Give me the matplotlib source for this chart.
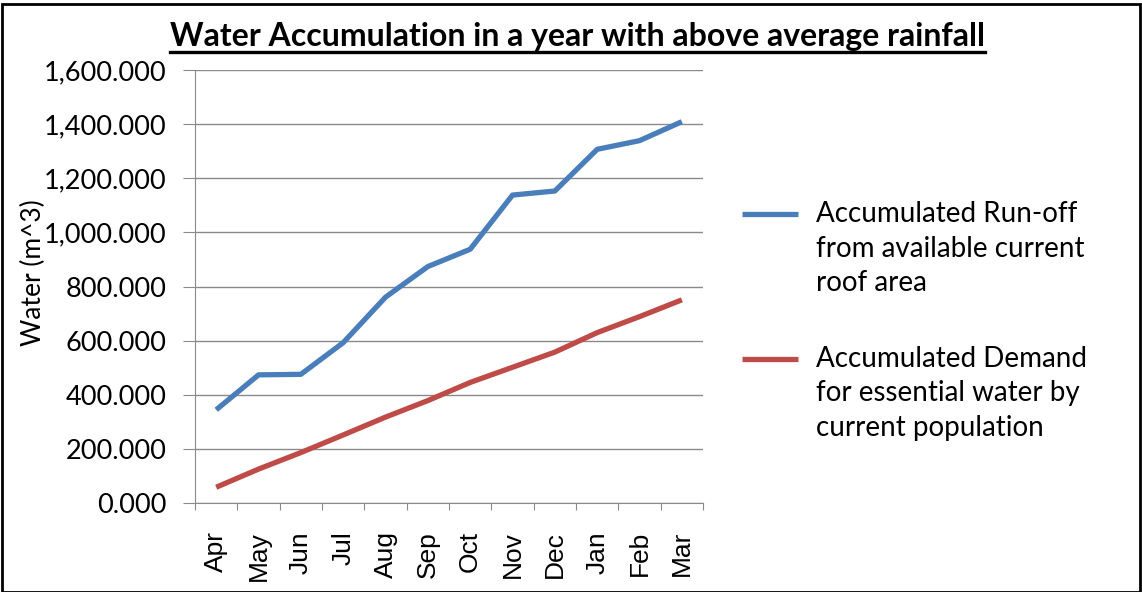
import matplotlib
matplotlib.use("Agg")
import numpy as np
import matplotlib.pyplot as plt
from matplotlib.lines import Line2D
from matplotlib.patches import Rectangle
from matplotlib.ticker import FuncFormatter, MultipleLocator
from matplotlib.legend_handler import HandlerLine2D

months = ["Apr", "May", "Jun", "Jul", "Aug", "Sep", "Oct", "Nov", "Dec", "Jan", "Feb", "Mar"]
runoff = [345, 474, 476, 593, 761, 874, 938, 1138, 1153, 1307, 1339, 1409]
demand = [59, 126, 187, 252, 318, 379, 446, 502, 558, 630, 689, 751]
series_labels = ["Accumulated Run-off\nfrom available current\nroof area",
                 "Accumulated Demand\nfor essential water by\ncurrent population"]
title = "Water Accumulation in a year with above average rainfall"

LEG_FS = 20
LEG_LS = 1.42


class FirstLineHandler(HandlerLine2D):
    """Align the legend line with the first line of a multi-line label."""
    def __init__(self, dy, **kw):
        super().__init__(**kw)
        self.dy = dy

    def create_artists(self, legend, orig_handle, xdescent, ydescent, width,
                       height, fontsize, trans):
        arts = super().create_artists(legend, orig_handle, xdescent, ydescent,
                                      width, height, fontsize, trans)
        for a in arts:
            a.set_ydata(np.asarray(a.get_ydata(), dtype=float) + self.dy)
        return arts


fig = plt.figure(figsize=(11.42, 5.92), dpi=100)
ax = fig.add_axes([0.1708, 0.150, 0.4448, 0.7318])

x = list(range(len(months)))
l1, = ax.plot(x, runoff, color="#4a7ebb", lw=3.8, solid_capstyle="butt")
l2, = ax.plot(x, demand, color="#be4b48", lw=3.8, solid_capstyle="butt")

ax.set_ylim(0, 1600)
ax.set_xlim(-0.5, len(months) - 0.5)
ax.yaxis.set_major_locator(MultipleLocator(200))
ax.yaxis.set_major_formatter(FuncFormatter(lambda v, p: f"{v:,.3f}"))
ax.grid(axis="y", color="#8a8a8a", lw=1.0)
ax.set_axisbelow(True)

ax.set_xticks([i - 0.5 for i in range(len(months) + 1)])
ax.set_xticklabels([])
ax.set_xticks(x, minor=True)
ax.set_xticklabels(months, minor=True, rotation=90, fontsize=19, family="Liberation Sans")
ax.tick_params(axis="x", which="minor", length=0, pad=20)
ax.tick_params(axis="x", which="major", length=5, color="#8a8a8a", direction="out")
ax.tick_params(axis="y", length=8.6, color="#8a8a8a", labelsize=19.5, pad=12)
for lab in ax.get_yticklabels():
    lab.set_family("Lato")

for s in ["top", "right"]:
    ax.spines[s].set_visible(False)
for s in ["left", "bottom"]:
    ax.spines[s].set_color("#8a8a8a")

ax.set_ylabel("Water (m^3)", fontsize=19, family="Lato")
ax.yaxis.label.set_va("center")
ax.yaxis.set_label_coords(-0.318, 0.533)

dy = 35 * 0.72
leg = fig.legend([l1, l2], series_labels, loc="upper left", bbox_to_anchor=(0.628, 0.703),
                 frameon=False, prop={"family": "Lato", "size": LEG_FS}, handlelength=2.0,
                 handletextpad=0.65, labelspacing=1.77,
                 handler_map={l1: FirstLineHandler(dy), l2: FirstLineHandler(dy)})
for txt in leg.get_texts():
    txt.set_linespacing(LEG_LS)

t = fig.text(0.5055, 0.939, title, ha="center", va="center", fontsize=23,
             fontweight="bold", family="Lato")
fig.canvas.draw()
bb = t.get_window_extent().transformed(fig.transFigure.inverted())
fig.add_artist(Line2D([bb.x0, bb.x1], [bb.y0 - 0.003, bb.y0 - 0.003], color="black", lw=2.4,
                      transform=fig.transFigure))
fig.add_artist(Rectangle((0.002, 0.0), 0.996, 0.994, fill=False, ec="black", lw=2,
                         transform=fig.transFigure))

fig.savefig("out.png", dpi=100)
